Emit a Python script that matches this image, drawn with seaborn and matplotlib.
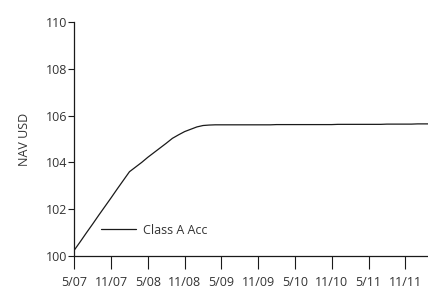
import matplotlib
matplotlib.use("Agg")
import matplotlib.pyplot as plt
import seaborn as sns
import pandas as pd

# months since May 2007
months = list(range(0, 59))
nav = [100.24, 100.61, 100.99, 101.36, 101.74, 102.11, 102.48, 102.86, 103.23, 103.6,
       103.8, 104.0, 104.22, 104.42, 104.62, 104.82, 105.03, 105.18, 105.32, 105.42,
       105.52, 105.58, 105.6, 105.61, 105.61, 105.61, 105.61, 105.61, 105.61, 105.61,
       105.61, 105.61, 105.61, 105.62, 105.62, 105.62, 105.62, 105.62, 105.62, 105.62,
       105.62, 105.62, 105.62, 105.63, 105.63, 105.63, 105.63, 105.63, 105.63, 105.63,
       105.63, 105.64, 105.64, 105.64, 105.64, 105.64, 105.65, 105.65, 105.65]
tick_pos = [0, 6, 12, 18, 24, 30, 36, 42, 48, 54]
tick_labels = ["5/07", "11/07", "5/08", "11/08", "5/09", "11/09", "5/10", "11/10", "5/11", "11/11"]

df = pd.DataFrame({"month": months, "nav": nav})

sns.set_style("ticks")
plt.rcParams["font.family"] = ["Open Sans", "DejaVu Sans"]

fig = plt.figure(figsize=(4.28, 2.91), dpi=100)
ax = fig.add_axes([74.3 / 428, (291 - 255.7) / 291, (428 - 74.3) / 428, 233.3 / 291])
sns.lineplot(data=df, x="month", y="nav", color="#1a1a1a", lw=0.9, ax=ax, label="Class A Acc")

ax.set_xlim(0, 57.7)
ax.set_ylim(100, 110)
ax.set_yticks([100, 102, 104, 106, 108, 110])
ax.set_xticks(tick_pos)
ax.set_xticklabels(tick_labels)
ax.tick_params(axis="x", length=9.4, width=0.8, labelsize=9, colors="#1a1a1a",
               labelcolor="#333333", pad=5.5)
ax.tick_params(axis="y", length=4.5, width=0.8, labelsize=9, colors="#1a1a1a",
               labelcolor="#333333", pad=0.5)
ax.set_xlabel("")
ax.set_ylabel("NAV USD", fontsize=9, color="#333333", labelpad=11)
for s in ["top", "right"]:
    ax.spines[s].set_visible(False)
for s in ["left", "bottom"]:
    ax.spines[s].set_linewidth(0.9)
    ax.spines[s].set_color("#1a1a1a")

ax.legend(loc="center left", bbox_to_anchor=(0.045, 0.11), frameon=False,
          fontsize=9, handlelength=2.8, handletextpad=0.5, labelcolor="#333333")

fig.savefig("out.png", dpi=100)
